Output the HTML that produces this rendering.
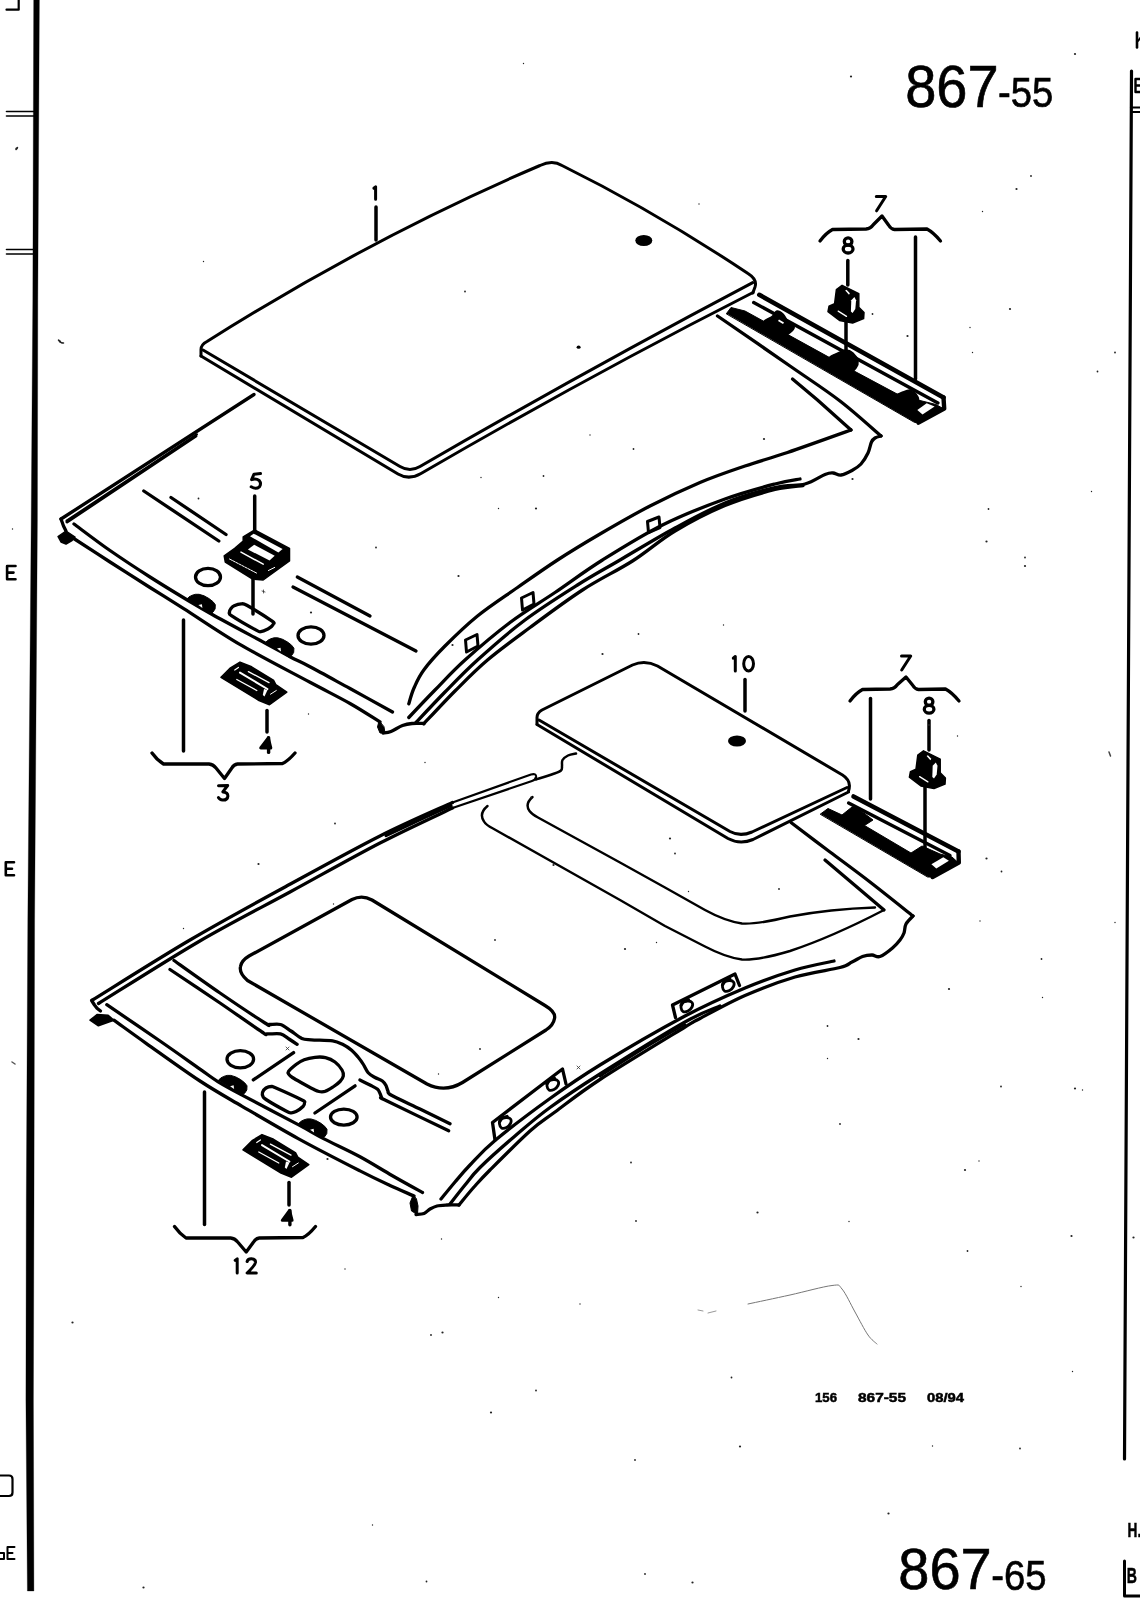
<!DOCTYPE html>
<html><head><meta charset="utf-8"><title>867-55</title>
<style>
html,body{margin:0;padding:0;background:#fff;}
body{width:1140px;height:1600px;overflow:hidden;font-family:"Liberation Sans",sans-serif;}
svg{display:block;position:absolute;left:0;top:0;will-change:transform;}
svg text{font-family:"Liberation Sans",sans-serif;fill:#000;}
svg path, svg ellipse{stroke-linecap:round;stroke-linejoin:round;}
</style></head><body>
<svg width="1140" height="1600" viewBox="0 0 1140 1600">
<rect x="0" y="0" width="1140" height="1600" fill="#fff"/>
<g id="frame">
<path d="M33.7,-2 L32.8,300 L31.2,520 L27.8,920 L26.3,1200 L25.9,1400 L27.4,1591 L33.9,1591 L33.4,1400 L34,1200 L34.6,920 L37.4,520 L37.8,300 L39.4,-2Z" fill="#000" stroke="#000" stroke-width="0.3" stroke-linejoin="round"/>
<path d="M6.5,111.5 L35,111.5" stroke="#000" stroke-width="1.6" fill="none"/>
<path d="M6.5,116 L35,116" stroke="#000" stroke-width="1.6" fill="none"/>
<path d="M6.5,249.5 L34,249.5" stroke="#000" stroke-width="1.6" fill="none"/>
<path d="M6.5,254 L34,254" stroke="#000" stroke-width="1.6" fill="none"/>
<path d="M18.7,-2 V9.7 H6.5" fill="none" stroke="#000" stroke-width="2.2" />
<path d="M15.5,566 H7.1 V579.2 H15.5 M7.1,572.6 H13.5" fill="none" stroke="#000" stroke-width="2.6" stroke-linecap="butt" stroke-linejoin="miter"/>
<path d="M14,862.2 H5.8 V875.2 H14 M5.8,868.7 H12" fill="none" stroke="#000" stroke-width="2.6" stroke-linecap="butt" stroke-linejoin="miter"/>
<path d="M-2,1475.5 H9 Q12.5,1475.5 12.5,1479 V1492.5 Q12.5,1496 9,1496 H-2" fill="none" stroke="#000" stroke-width="2.2" />
<path d="M14.5,1547 H7.5 V1559 H14.5 M7.5,1553 H12.5" fill="none" stroke="#000" stroke-width="2" stroke-linecap="butt" stroke-linejoin="miter"/>
<path d="M0,1553 H4 V1559 H0" fill="none" stroke="#000" stroke-width="2" />
<path d="M1131.5,71 L1124.5,1459" fill="none" stroke="#000" stroke-width="3.2" stroke-linecap="butt"/>
<path d="M1137,32.5 V47.5" fill="none" stroke="#000" stroke-width="2.6" stroke-linecap="butt"/>
<path d="M1138,41 L1141,37" fill="none" stroke="#000" stroke-width="2" />
<path d="M1141,79 H1135.5 V92 H1141 M1135.5,85.5 H1141" fill="none" stroke="#000" stroke-width="2.4" stroke-linecap="butt"/>
<path d="M1131,107.5 L1141,107.5" stroke="#000" stroke-width="2.2" fill="none"/>
<path d="M1131,112 L1141,112" stroke="#000" stroke-width="1.8" fill="none"/>
<text transform="translate(1127.6 1537) scale(0.7 1)" font-size="19.5" font-weight="bold" stroke="#000" stroke-width="0.5">H.</text>
<text transform="translate(1126.8 1583) scale(0.64 1)" font-size="22" font-weight="bold" stroke="#000" stroke-width="0.5">B</text>
<path d="M1124.5,1561 V1596 H1141" fill="none" stroke="#000" stroke-width="3" />
</g>
<g id="titles">
<text transform="translate(905.2 106.6) scale(1.0 1.06)" font-size="56" font-weight="normal" stroke="#000" stroke-width="0.6">867</text>
<text transform="translate(998 107) scale(0.97 1.07)" font-size="39.5" font-weight="normal" stroke="#000" stroke-width="0.6">-55</text>
<text transform="translate(898.3 1589.3) scale(1.0 1.01)" font-size="56" font-weight="normal" stroke="#000" stroke-width="0.6">867</text>
<text transform="translate(991.2 1589.5) scale(0.97 1.07)" font-size="39.5" font-weight="normal" stroke="#000" stroke-width="0.6">-65</text>
<text x="815" y="1401.5" font-size="13" font-weight="bold" text-anchor="start" textLength="22" lengthAdjust="spacingAndGlyphs" stroke="#000" stroke-width="0.5">156</text>
<text x="858" y="1401.5" font-size="13" font-weight="bold" text-anchor="start" textLength="48" lengthAdjust="spacingAndGlyphs" stroke="#000" stroke-width="0.5">867-55</text>
<text x="927" y="1401.5" font-size="13" font-weight="bold" text-anchor="start" textLength="37" lengthAdjust="spacingAndGlyphs" stroke="#000" stroke-width="0.5">08/94</text>
<path d="M748,1304 C755,1302.5 776,1298.1 790,1295 C804,1291.9 823.3,1286.5 832,1285.5 C840.7,1284.5 838.2,1284.6 842,1289 C845.8,1293.4 850.7,1304.3 855,1312 C859.3,1319.7 864.3,1329.7 868,1335 C871.7,1340.3 875.5,1342.5 877,1344" fill="none" stroke="#777" stroke-width="1" />
<path d="M698,1310 l5,1 M708,1313 l8,-2" fill="none" stroke="#999" stroke-width="1" />
</g>
<g id="panel1">
<path d="M201,356 L201,349.5 Q201,344.5 207,341.5 Q373.5,236.5 540,165.5 Q552.5,159.3 562,165.5 Q655,211.5 748,273.5 Q757.5,279.5 755,287 L752.8,293" fill="none" stroke="#000" stroke-width="3.0" />
<path d="M203,350 L400,466.5 Q410,472.5 420,466.5 Q586,370.5 752.7,282.6" fill="none" stroke="#000" stroke-width="3.0" />
<path d="M201,356 L398,474 Q409,480.5 421,473.5 Q586,377.5 753,292.5" fill="none" stroke="#000" stroke-width="3.0" />
<ellipse cx="643.8" cy="240.5" rx="8.5" ry="5.5" fill="#000"/>
<ellipse cx="578.6" cy="347.2" rx="2" ry="1.6" fill="#000"/>
<path d="M373.9 188.2 L375.6 186.8 L375.6 199.2 " fill="none" stroke="#000" stroke-width="3.0" />
<path d="M376,207 L376,240" stroke="#000" stroke-width="3.5" fill="none"/>
</g>
<g id="head1">
<path d="M254,394.5 L61,519" stroke="#000" stroke-width="3.3" fill="none"/>
<path d="M196,436 L67,522" stroke="#000" stroke-width="3.0" fill="none"/>
<path d="M197,434.2 L66.5,520.6" stroke="#000" stroke-width="2.0" fill="none"/>
<path d="M61,519 L63.5,526 L66,531" fill="none" stroke="#000" stroke-width="3.3" />
<path d="M66,531 L58,536.5 L61,542 L66,544 L72,540.5 L75,537Z" fill="#000" stroke="#000" stroke-width="1.5" stroke-linejoin="round"/>
<path d="M74,524 C80,528.4 97.3,541.7 110,550.5 C122.7,559.3 137.2,568.8 150,577 C162.8,585.2 176.2,593.3 186.5,599.5 C196.8,605.7 198.7,607 211.8,614.2 C224.8,621.5 251.9,635.9 265,643 C278.1,650.1 282.9,653 290.4,657 C297.9,661 300.1,661.5 310,666.8 C319.9,672 336.2,681 350,688.5 C363.8,696 385.4,708.1 392.5,712" fill="none" stroke="#000" stroke-width="3.3" />
<path d="M73,538 C79.2,542 97.2,553.8 110,562 C122.8,570.2 137.7,579.7 150,587.5 C162.3,595.3 168.7,599.1 183.7,608.6 C198.7,618.1 218.8,632.1 239.8,644.4 C260.9,656.7 291.6,672.4 310,682.3 C328.4,692.1 338.3,696.9 350,703.5 C361.7,710.1 375,718.9 380,722" fill="none" stroke="#000" stroke-width="3.3" />
<path d="M379,721 L377.5,727 L380,733 L385,733 L384,727Z" fill="#000" stroke="#000" stroke-width="1" stroke-linejoin="round"/>
<path d="M383,733 C384.3,732.8 387.8,732.8 391,731.5 C394.2,730.2 399,726.8 402.5,725.5 C406,724.2 408.4,723.8 412,723.5 C415.6,723.2 422,723.5 424,723.5" fill="none" stroke="#000" stroke-width="3.3" />
<path d="M143.8,491 L218.8,541" stroke="#000" stroke-width="3.3" fill="none"/>
<path d="M171,497.5 L226,534.5" stroke="#000" stroke-width="3.3" fill="none"/>
<path d="M297.3,577 L370,616" stroke="#000" stroke-width="3.3" fill="none"/>
<path d="M293,587 L416,651" stroke="#000" stroke-width="3.3" fill="none"/>
<ellipse cx="208" cy="577" rx="12.5" ry="8.7" fill="none" stroke="#000" stroke-width="3.3"/>
<ellipse cx="311" cy="635.5" rx="13" ry="8.7" fill="none" stroke="#000" stroke-width="3.3"/>
<path d="M229.5,612.1 C229.4,611.2 230.4,609.3 231,608.5 C231.6,607.7 232.8,606.4 234.2,605.8 C235.6,605.2 239.5,604 241.2,603.9 C242.9,603.8 242.7,603 246.8,605.3 C250.9,607.6 268.6,618.7 272.1,621.2 C275.6,623.7 273.4,623.3 273.3,624 C273.2,624.7 272.2,625.8 271.5,626.5 C270.8,627.2 269.3,628.2 267.9,628.9 C266.5,629.6 262.4,631.4 260.9,631.6 C259.4,631.8 260.6,632.5 256.7,630.4 C252.8,628.3 235,618 231.4,615.6 C227.8,613.2 229.6,613 229.5,612.1Z" fill="none" stroke="#000" stroke-width="3.3" />
<path d="M186.5,599.5 L189,596.9 L192.1,595.3 L195.5,594.3 L199.1,594.3 L204,595.8 L208.9,598.5 L213,601.7 L215.3,604.7 L215.1,608.9 L213,612.1 L210.4,613.7 L198.5,606.5Z" fill="#000" stroke="#000" stroke-width="1.0" stroke-linejoin="round"/>
<path d="M198.4,605.1 L201.9,604.2 L202.4,607.9Z" fill="#fff" stroke="#fff" stroke-width="0"/>
<path d="M265.1,643 L267.6,640.4 L270.7,638.8 L274.1,637.8 L277.7,637.8 L282.6,639.3 L287.5,642 L291.6,645.2 L293.9,648.2 L293.7,652.4 L291.6,655.6 L289,657.2 L277.1,650Z" fill="#000" stroke="#000" stroke-width="1.0" stroke-linejoin="round"/>
<path d="M277,648.6 L280.5,647.7 L281,651.4Z" fill="#fff" stroke="#fff" stroke-width="0"/>
<path d="M408.8,703.8 C409.6,701.1 411.5,693.6 414,688 C416.5,682.4 418.6,677 423.8,670 C428.9,663 436,655 445,646 C454,637 465.4,625.8 477.5,616 C489.6,606.2 504.2,596.8 517.5,587.5 C530.8,578.2 543.8,568.9 557.5,560 C571.2,551.1 584.6,543 600,534 C615.4,525 633.3,514.6 650,506 C666.7,497.4 684.2,489.2 700,482.5 C715.8,475.8 730.4,471 745,466 C759.6,461 769.8,458.5 787.5,452.5 C805.2,446.5 840.4,433.8 851,430" fill="none" stroke="#000" stroke-width="3.3" />
<path d="M408.8,717.5 C413.1,712.9 425.6,699.6 435,690 C444.4,680.4 452.5,671.2 465,660 C477.5,648.8 495,633.8 510,622.5 C525,611.2 539.6,602.9 555,592.5 C570.4,582.1 584.6,571.2 602.5,560 C620.4,548.8 642.1,535.2 662.5,525 C682.9,514.8 706.2,505.8 725,499 C743.8,492.2 762.5,487.3 775,484 C787.5,480.7 795.8,479.8 800,479" fill="none" stroke="#000" stroke-width="3.3" />
<path d="M416,722.5 C420.8,717.4 434.8,702.4 445,692 C455.2,681.6 464.2,672 477.5,660 C490.8,648 508.3,632.5 525,620 C541.7,607.5 561.7,595 577.5,585 C593.3,575 603.8,569.5 620,560 C636.2,550.5 657.5,537.5 675,528 C692.5,518.5 708.3,509.8 725,503 C741.7,496.2 761.7,490.7 775,487.5 C788.3,484.3 796.7,486.2 805,484 C813.3,481.8 820.3,476.3 825,474.5 C829.7,472.7 830.3,472.9 833,473 C835.7,473.1 837.8,475.4 841,475 C844.2,474.6 848.7,472.3 852,470.5 C855.3,468.7 858.3,466.9 861,464 C863.7,461.1 866.2,456.7 868,453 C869.8,449.3 870.3,444.5 871.5,442 C872.7,439.5 873.4,439 875,438 C876.6,437 880,436.3 881,436" fill="none" stroke="#000" stroke-width="3.3" />
<path d="M423.8,723.8 C429,718.3 444.4,701.6 455,691 C465.6,680.4 475,670.6 487.5,660 C500,649.4 514.2,639.2 530,627.5 C545.8,615.8 565.4,601.1 582.5,590 C599.6,578.9 617.1,570.8 632.5,561 C647.9,551.2 659.6,540.2 675,531 C690.4,521.8 708.3,512.4 725,505.5 C741.7,498.6 762,492.8 775,489.5 C788,486.2 798.3,486.2 803,485.5" fill="none" stroke="#000" stroke-width="3.3" />
<path d="M881,436 C874.2,430.2 855.2,412.7 840,401 C824.8,389.3 810.4,380.2 790,366 C769.6,351.8 729.6,324.3 717.5,316" fill="none" stroke="#000" stroke-width="3.3" />
<path d="M851,430 L817.5,400 L792.5,379" fill="none" stroke="#000" stroke-width="3.3" />
<path d="M465.5,640 L477,634.5 L478,646 L466.5,652Z" fill="none" stroke="#000" stroke-width="3.0" />
<path d="M521.5,598 L533,592.5 L534,604 L522.5,610Z" fill="none" stroke="#000" stroke-width="3.0" />
<path d="M647.5,521.5 L659,517 L660,527.5 L648.5,532.5Z" fill="none" stroke="#000" stroke-width="3.0" />
</g>
<g id="clips1">
<path d="M260.5 473.6 L254 474.2 L251.6 479.7 Q256 478.1 259.2 480.5 Q261.7 483.6 259.4 486.8 Q256 489.7 251.2 486.8 " fill="none" stroke="#000" stroke-width="3.0" />
<path d="M254.7,496 L254.7,531" stroke="#000" stroke-width="3.5" fill="none"/>
<path d="M243.2,536.8 L254.7,530 L289.5,548.4 L289.5,561 L263.2,580 L252.6,579 L225.3,562 L224.2,555.8 L234.7,548.4 L243.2,541Z" fill="#000" stroke="#000" stroke-width="1.5" stroke-linejoin="round"/>
<path d="M250,536.3 L253.7,533.7 L282.6,549 L278.4,552.6Z" fill="#fff" stroke="#fff" stroke-width="0"/>
<path d="M247.9,549.5 L254.2,544.7 L274.7,555.8 L269.5,560.5Z" fill="#fff" stroke="#fff" stroke-width="0"/>
<path d="M241,552.1 L263.2,564.2" stroke="#fff" stroke-width="1.5" fill="none"/>
<path d="M229.5,559 L256.8,573.2" stroke="#fff" stroke-width="1" fill="none" stroke-dasharray="2.5 1"/>
<path d="M268.4,570.5 L274.7,567.4" stroke="#fff" stroke-width="1" fill="none"/>
<path d="M253,578 L253,614" stroke="#000" stroke-width="3.5" fill="none"/>
<path d="M221,677.4 L230.5,667.9 L240,662.1 L251.6,666.8 L273.7,680.5 L275.8,684.7 L286.8,692.1 L269.5,704.7 L259,700.5Z" fill="#000" stroke="#000" stroke-width="1.5" stroke-linejoin="round"/>
<path d="M234.7,670 L238.4,667.4" stroke="#fff" stroke-width="1.2" fill="none"/>
<path d="M248.4,671.6 L269,682.6" stroke="#fff" stroke-width="1.3" fill="none"/>
<path d="M240,672.6 L267.4,689" stroke="#fff" stroke-width="2" fill="none"/>
<path d="M236.8,679.5 L256.8,690.5" stroke="#fff" stroke-width="1.3" fill="none"/>
<path d="M264,689 L267.5,690 L264.5,696.5 L262.8,695Z" fill="#fff" stroke="#fff" stroke-width="0"/>
<path d="M270.5,694.2 L276.3,690.5" stroke="#fff" stroke-width="1" fill="none"/>
<path d="M267,710.5 L267,732" stroke="#000" stroke-width="3.5" fill="none"/>
<path d="M268.3 737.8 L260.7 747.9 L270.8 747.9 Z" fill="#000" stroke="#000" stroke-width="3.0" stroke-linejoin="round"/>
<path d="M268.6 737.8 L268.6 752.4 " fill="none" stroke="#000" stroke-width="3.4" />
<path d="M183.5,620 L183.5,751" stroke="#000" stroke-width="3.5" fill="none"/>
<path d="M152,753 Q157,760 163.5,764 L209,764 Q213,764.3 216,768 L224.5,778.5 L231.5,768.5 Q234,764.3 237.5,764 L282.5,763.5 Q288,761 295,753" fill="none" stroke="#000" stroke-width="3.3" />
<path d="M218.5 785.7 L227.7 785.5 L222.8 791.9 Q227.9 792.1 227.9 796 Q227.5 800.3 222.6 800.1 Q219.7 799.9 218.4 797.6 " fill="none" stroke="#000" stroke-width="3.0" />
</g>
<g id="rail1">
<path d="M820,241 Q826,233 832.5,229.5 L866,229 Q870.5,228.7 873.5,224.5 L882,216 L888.5,225 Q891,229.3 894.5,229.5 L927,229 Q933.5,232.5 940.5,241" fill="none" stroke="#000" stroke-width="3.3" />
<path d="M876.3 196.5 L885.7 196.5 L876.6 210.8 " fill="none" stroke="#000" stroke-width="3.0" />
<ellipse cx="848.1" cy="241.5" rx="3.8" ry="3.6" fill="none" stroke="#000" stroke-width="3.3"/>
<ellipse cx="848.1" cy="249" rx="4.9" ry="4" fill="none" stroke="#000" stroke-width="3.3"/>
<path d="M847.8,260.5 L847.8,285" stroke="#000" stroke-width="3.5" fill="none"/>
<path d="M836.4,289.6 L842.1,285.3 L858.8,293.6 L858.8,307.2 L864,312.5 L863.6,318.6 L852.6,323 L839.5,320.4 L828,311.6 L829,306.3 L834.6,303.7Z" fill="#000" stroke="#000" stroke-width="1.5" stroke-linejoin="round"/>
<path d="M845.2,290.5 L846.5,289.8 L849.9,293.3 L849,294.8Z" fill="#fff" stroke="#fff" stroke-width="0"/>
<path d="M851.3,300.2 L854.4,297.1 L856.1,300.2 L855.3,309 L852.6,312.9 L850.9,311.6Z" fill="#fff" stroke="#fff" stroke-width="0"/>
<path d="M838.2,311.1 L846.5,316.4" stroke="#fff" stroke-width="1.3" fill="none"/>
<path d="M846,322 L846,364" stroke="#000" stroke-width="3.5" fill="none"/>
<path d="M915.5,237 L915.5,379" stroke="#000" stroke-width="3.5" fill="none"/>
<path d="M759.3,294.8 L943.5,397.4" fill="none" stroke="#000" stroke-width="4.6" />
<path d="M753.7,302.5 L937.9,403" fill="none" stroke="#000" stroke-width="3.4" />
<path d="M726.5,313.5 L731,307.5 L745,311 L850.9,369.3 L898.6,394.8 L911,402 L920,400.5 L936,404.5 L943,408.5 L919,423 L915,422.5Z" fill="#000" stroke="#000" stroke-width="1.0" stroke-linejoin="round"/>
<path d="M764,322 C763.5,319.6 769.8,318.3 772,316.5 C774.2,314.7 775.2,311.4 777,311 C778.8,310.6 781.3,312.5 783,314 C784.7,315.5 785.2,318 787,320 C788.8,322 793.2,324.2 794,326 C794.8,327.8 793.5,329.5 792,331 C790.5,332.5 787.8,335 785,335 C782.2,335 778.5,333.2 775,331 C771.5,328.8 764.5,324.4 764,322Z" fill="#000" stroke="#000" stroke-width="1.5" stroke-linejoin="round"/>
<path d="M829,358.5 C829,355.7 835.2,354.4 838,353 C840.8,351.6 843.5,350 846,350 C848.5,350 851,351.2 853,353 C855,354.8 857.5,358.5 858,361 C858.5,363.5 857.7,365.8 856,368 C854.3,370.2 851,373.7 848,374 C845,374.3 841.2,372.6 838,370 C834.8,367.4 829,361.3 829,358.5Z" fill="#000" stroke="#000" stroke-width="1.5" stroke-linejoin="round"/>
<path d="M896,396 C896.7,393.8 900.7,393 903,392 C905.3,391 907.8,389.7 910,390 C912.2,390.3 914.5,392.2 916,394 C917.5,395.8 918.8,398.7 919,401 C919.2,403.3 918.8,406.2 917,408 C915.2,409.8 911,412.5 908,412 C905,411.5 901,407.7 899,405 C897,402.3 895.3,398.2 896,396Z" fill="#000" stroke="#000" stroke-width="1.5" stroke-linejoin="round"/>
<path d="M943.5,397.4 L944.2,408.6 L918.5,422.6" fill="none" stroke="#000" stroke-width="4.4" />
<path d="M917.3,410 L926.7,403.2 L934.6,406.6 L922.5,414.6Z" fill="#fff" stroke="#fff" stroke-width="0"/>
<path d="M779,319.5 L784,322.5 L783,324 L778,321Z" fill="#fff" stroke="#fff" stroke-width="0"/>
</g>
<g id="panel10">
<path d="M537,724 L537,717.5 Q537,713 542,710 L632.5,665 Q645,659.5 657.5,666 L842.5,775 Q852,781 848.5,791" fill="none" stroke="#000" stroke-width="3.0" />
<path d="M539,720 L730,831.5 Q740,837 752,832 L847,787.5" fill="none" stroke="#000" stroke-width="3.0" />
<path d="M537,724.5 L728,838.5 Q740,845 753,839.5 L848.5,792" fill="none" stroke="#000" stroke-width="3.0" />
<ellipse cx="737" cy="741" rx="9" ry="5.5" fill="#000"/>
<path d="M733.3 658.2 L735.3 656.5 L735.3 671 " fill="none" stroke="#000" stroke-width="3.0" />
<ellipse cx="748.6" cy="663.8" rx="4.9" ry="7.2" fill="none" stroke="#000" stroke-width="3.0"/>
<path d="M745,679.5 L745,711" stroke="#000" stroke-width="3.5" fill="none"/>
</g>
<g id="rail2">
<path d="M850,701 Q856,693 862.5,689.5 L890,689 Q894.5,688.7 897.5,684.5 L906,677 L912.5,685 Q915,689.3 918.5,689.5 L945.5,689 Q952,692.5 959,701" fill="none" stroke="#000" stroke-width="3.3" />
<path d="M901.5 656 L910.7 656 L901.7 670 " fill="none" stroke="#000" stroke-width="3.0" />
<ellipse cx="929.1" cy="701.7" rx="3.8" ry="3.6" fill="none" stroke="#000" stroke-width="3.3"/>
<ellipse cx="929.1" cy="709.2" rx="4.8" ry="3.9" fill="none" stroke="#000" stroke-width="3.3"/>
<path d="M929,720.5 L929,750" stroke="#000" stroke-width="3.5" fill="none"/>
<path d="M917.8,755.1 L923.5,750.8 L940.2,759.1 L940.2,772.7 L945.4,778 L945,784.1 L934,788.5 L920.9,785.9 L909.4,777.1 L910.4,771.8 L916,769.2Z" fill="#000" stroke="#000" stroke-width="1.5" stroke-linejoin="round"/>
<path d="M926.6,756 L927.9,755.3 L931.3,758.8 L930.4,760.3Z" fill="#fff" stroke="#fff" stroke-width="0"/>
<path d="M932.7,765.7 L935.8,762.6 L937.5,765.7 L936.7,774.5 L934,778.4 L932.3,777.1Z" fill="#fff" stroke="#fff" stroke-width="0"/>
<path d="M919.6,776.6 L927.9,781.9" stroke="#fff" stroke-width="1.3" fill="none"/>
<path d="M925,787 L925,856" stroke="#000" stroke-width="3.5" fill="none"/>
<path d="M870.5,698.5 L870.5,799" stroke="#000" stroke-width="3.5" fill="none"/>
<path d="M853.5,796.5 L958.5,851.5" fill="none" stroke="#000" stroke-width="4.6" />
<path d="M848.6,803 L950,855.5" fill="none" stroke="#000" stroke-width="3.4" />
<path d="M820.5,814 L828,808.5 L842,815 L852,807 L856,807 L873,820 L864.5,825.5 L911,853 L922,846 L940,854 L952,857 L957.5,862 L932,877 L928,877Z" fill="#000" stroke="#000" stroke-width="1.0" stroke-linejoin="round"/>
<path d="M958.5,851.5 L958.8,862.5 L932.5,877" fill="none" stroke="#000" stroke-width="4.4" />
<path d="M931.4,864.2 L943.3,857.2 L948.9,860.7 L936.3,868.4Z" fill="#fff" stroke="#fff" stroke-width="0"/>
</g>
<g id="head2">
<path d="M576,753.5 C574.7,753.8 570.2,754.4 568,755.5 C565.8,756.6 563.5,758.2 562.5,760 C561.5,761.8 562.2,764.2 562,766 C561.8,767.8 562.5,769.2 561,770.5 C559.5,771.8 557.2,772.5 553,774 C548.8,775.5 538.8,778.6 536,779.5" fill="none" stroke="#000" stroke-width="2.5" />
<path d="M452.5,802.5 L531,774.5 Q536.5,773 536,777 Q535.5,780 532,781 L452.5,808" fill="none" stroke="#000" stroke-width="2.2" />
<path d="M452.5,802.5 C440.4,808.1 407.9,821.9 380,836 C352.1,850.1 316.7,869.7 285,887 C253.3,904.3 222.1,921.2 190,940 C157.9,958.8 108.8,990 92.5,1000" fill="none" stroke="#000" stroke-width="3.3" />
<path d="M452.5,808 C440.4,813.8 407.1,829 380,843 C352.9,857 320.2,875.6 290,892 C259.8,908.4 230.9,922.9 199,941.5 C167.1,960.1 115.2,993.2 98.5,1003.5" fill="none" stroke="#000" stroke-width="3.3" />
<path d="M451,805.6 C445.5,808.1 428.8,815.6 418,820.6 C407.2,825.6 391.3,833.1 386,835.6" fill="none" stroke="#000" stroke-width="3.2" />
<path d="M91.6,1000.5 L94.5,1005 L97,1008.2 L100.5,1011" fill="none" stroke="#000" stroke-width="3.3" />
<path d="M90,1020.2 L97,1014.6 L108.2,1015.3 L113.9,1020.2 L109.6,1021.8 L98.4,1025.8Z" fill="#000" stroke="#000" stroke-width="1.5" stroke-linejoin="round"/>
<path d="M106.8,1004.7 C115.7,1010.8 144.5,1030.3 160,1041 C175.5,1051.7 190.3,1062.3 200,1069.1 C209.7,1075.9 211.2,1077.5 218.2,1081.8 C225.2,1086.1 228.8,1088 242.1,1095.1 C255.4,1102.2 284.6,1117.3 298.2,1124.6 C311.8,1131.8 313.2,1133.2 323.5,1138.6 C333.8,1144 348.6,1150.6 360,1156.8 C371.4,1163 381.6,1169.5 392,1175.5 C402.4,1181.5 417.4,1189.7 422.5,1192.5" fill="none" stroke="#000" stroke-width="3.3" />
<path d="M113.9,1020.2 C119.3,1024 131.8,1033.2 146.1,1043.3 C160.4,1053.4 184,1070.5 200,1081 C216,1091.5 225.7,1096.7 242.1,1106.3 C258.5,1115.9 278.6,1127.8 298.2,1138.6 C317.8,1149.4 344.7,1163.1 360,1170.9 C375.3,1178.7 381,1181.3 390,1185.5 C399,1189.7 410,1194.2 414,1196" fill="none" stroke="#000" stroke-width="3.3" />
<path d="M413,1195.5 L410,1203 L411.5,1211 L417.5,1214.5 L418,1206 L416.5,1199Z" fill="#000" stroke="#000" stroke-width="1" stroke-linejoin="round"/>
<path d="M416,1214.5 C417.3,1214.3 421.7,1214.4 424,1213.5 C426.3,1212.6 427.8,1210.2 430,1209 C432.2,1207.8 434.2,1206.7 437,1206 C439.8,1205.3 443.3,1205.2 447,1205 C450.7,1204.8 457,1205 459,1205" fill="none" stroke="#000" stroke-width="3.3" />
<path d="M441,1199 C443.3,1196.2 450.2,1187.7 455,1182 C459.8,1176.3 463.3,1171.9 470,1165 C476.7,1158.1 481.7,1151.6 495,1140.5 C508.3,1129.4 532.5,1111.1 550,1098.5 C567.5,1085.9 577.5,1078.8 600,1065 C622.5,1051.2 660.8,1028.8 685,1016 C709.2,1003.2 726.7,995.7 745,988 C763.3,980.3 780.2,974.5 795,970 C809.8,965.5 827.5,962.5 834,961" fill="none" stroke="#000" stroke-width="3.3" />
<path d="M450,1204 C452.5,1200.8 460,1191.1 465,1185 C470,1178.9 471.7,1175.7 480,1167.5 C488.3,1159.3 503.3,1146 515,1136 C526.7,1126 535.8,1117.8 550,1107.5 C564.2,1097.2 577.5,1088.2 600,1074 C622.5,1059.8 665,1033.3 685,1022 C705,1010.7 714.2,1008.7 720,1006" fill="none" stroke="#000" stroke-width="3.3" />
<path d="M459,1205 C461.5,1202 468.8,1192.8 474,1187 C479.2,1181.2 480.7,1179.3 490,1170 C499.3,1160.7 519.2,1140.7 530,1131 C540.8,1121.3 543.3,1120.6 555,1112 C566.7,1103.4 578.3,1093.7 600,1079.5 C621.7,1065.3 668.3,1037.2 685,1027 C701.7,1016.8 690,1023.8 700,1018.5 C710,1013.2 729.2,1002.4 745,995.5 C760.8,988.6 779.2,981.7 795,977 C810.8,972.3 830.5,970 840,967.5 C849.5,965 848.2,963.8 852,962 C855.8,960.2 859.2,957.7 862.5,956.5 C865.8,955.3 869.1,955 872,955 C874.9,955 876.6,957.7 880,956.5 C883.4,955.3 889.2,950.8 892.5,948 C895.8,945.2 898.1,942.5 900,940 C901.9,937.5 903,935.7 904,933 C905,930.3 904.5,926.8 906,924 C907.5,921.2 911.8,917.3 913,916" fill="none" stroke="#000" stroke-width="3.3" />
<path d="M600,1076.5 C606.7,1072.2 625.8,1059.7 640,1051 C654.2,1042.3 677.5,1028.9 685,1024.5" fill="none" stroke="#000" stroke-width="2.2" />
<path d="M913,916 C905.8,910.3 883.8,892.7 870,882 C856.2,871.3 843.2,861.9 830,852 C816.8,842.1 797.5,827.4 791,822.5" fill="none" stroke="#000" stroke-width="3.3" />
<path d="M884,910 L825,860" fill="none" stroke="#000" stroke-width="3.3" />
<path d="M532.5,797 Q524.5,804 529.5,811 Q532,814.5 538,817.5 L620,862.5 L665,887.5 L705,910 Q725,921 742,923.5 Q757,924.5 790,916.5 Q830,909 875,907.5" fill="none" stroke="#000" stroke-width="2.4" />
<path d="M487.5,806 Q478.5,813.5 484,821.5 Q486,825 493,828.5 L620,900 L665,926 L705,946.5 Q726,957.5 742,959.5 Q758,960.5 790,951 Q832,937 884,910" fill="none" stroke="#000" stroke-width="2.4" />
<path d="M247.5,980.5 Q239,973 240.5,966.5 Q241.5,960.5 249,956 L352,899.5 Q362,894.5 372,900 L545,1005.5 Q556,1012 554.5,1018.5 Q553.5,1025 546,1030 L462.5,1082.5 Q445,1093 427,1084 L247.5,980.5Z" fill="none" stroke="#000" stroke-width="3.3" />
<path d="M174,960.5 C180.9,965.4 206.3,983.6 220,993 C233.7,1002.4 257.6,1018.3 265,1023 C272.4,1027.7 266.7,1024.3 269,1024.5 C271.3,1024.7 277.2,1023.5 280.5,1024.5 C283.8,1025.5 287.8,1028.9 291,1031 C294.2,1033.1 298.8,1037.1 301.8,1038.4 C304.8,1039.7 306.7,1039.4 311.3,1039.8 C315.9,1040.2 327.8,1040.1 332.6,1040.8 C337.4,1041.5 340.1,1043.1 343,1044.5 C345.9,1045.9 349.4,1048.4 351.6,1050.3 C353.9,1052.2 356.2,1054.9 358,1057 C359.8,1059.1 361.9,1062.1 363.4,1064.5 C364.9,1066.9 366.5,1070.8 368.2,1072.8 C369.9,1074.8 372.9,1076.3 375,1077.5 C377.1,1078.7 380.8,1079.8 382.4,1081 C384,1082.2 385.2,1084 386,1085.5 C386.8,1087 387.2,1089.6 388,1091 C388.8,1092.4 386.2,1092.3 391,1095 C395.8,1097.7 411.1,1104.7 420,1109 C428.9,1113.3 445.5,1121.5 450,1123.7" fill="none" stroke="#000" stroke-width="3.3" />
<path d="M170,969.5 C177.5,974.5 206.2,993.6 220,1003 C233.8,1012.4 254.9,1027.4 262,1032 C269.1,1036.6 264.2,1033.6 267,1033.9 C269.8,1034.2 277.2,1033.1 280.5,1033.9 C283.8,1034.7 286.5,1037.4 289,1039 C291.5,1040.6 295.9,1043.5 297.1,1044.3" fill="none" stroke="#000" stroke-width="3.3" />
<path d="M359.9,1079.9 C361.6,1080.7 368.3,1084.1 371,1085.5 C373.7,1086.9 376.2,1088.1 377.6,1089.3 C379,1090.5 379.3,1092.2 380,1093.5 C380.7,1094.8 381.1,1097 382,1098 C382.9,1099 376,1095.6 386,1100.5 C396,1105.4 439.3,1126.3 448.7,1130.8" fill="none" stroke="#000" stroke-width="3.3" />
<ellipse cx="240.3" cy="1059.3" rx="13.3" ry="8.6" fill="none" stroke="#000" stroke-width="3.3"/>
<ellipse cx="343.8" cy="1117.1" rx="13.3" ry="8" fill="none" stroke="#000" stroke-width="3.3"/>
<path d="M293.6,1052.6 L253.3,1079.9" stroke="#000" stroke-width="3.3" fill="none"/>
<path d="M355.1,1085.8 L314.9,1113" stroke="#000" stroke-width="3.3" fill="none"/>
<path d="M288.5,1071.5 C289.7,1069.8 293.4,1066.5 296,1064.5 C298.6,1062.5 301,1060.9 304.2,1059.7 C307.4,1058.5 311.4,1057.7 315,1057.3 C318.6,1056.9 322.2,1056.8 325.5,1057.6 C328.8,1058.4 332.2,1059.9 335,1062 C337.8,1064.1 340.6,1067.7 342,1070 C343.4,1072.3 343.6,1074.1 343.3,1076 C343,1077.9 341.7,1079.7 340,1081.5 C338.3,1083.3 335.4,1085.4 333,1087 C330.6,1088.6 327.8,1090.5 325.5,1091.2 C323.2,1092 321.1,1091.9 319,1091.5 C316.9,1091.1 316,1090.5 313,1089 C310,1087.5 304.4,1084.4 301,1082.5 C297.6,1080.6 294.4,1078.8 292.4,1077.5 C290.4,1076.2 289.6,1075.5 289,1074.5 C288.4,1073.5 287.3,1073.2 288.5,1071.5Z" fill="none" stroke="#000" stroke-width="3.3" />
<path d="M262.5,1092.5 C262.9,1091.2 264.6,1088.9 266,1088 C267.4,1087.1 270,1086.5 271.5,1086.5 C273,1086.5 271.4,1086 276,1088 C280.6,1090 297.7,1097.8 302,1100 C306.3,1102.2 304.4,1102 304.5,1103 C304.6,1104 304.3,1105.2 303,1106.5 C301.7,1107.8 297.8,1110.6 296,1111.5 C294.2,1112.4 292.5,1112.9 291,1112.8 C289.5,1112.7 289.8,1113 286,1111 C282.2,1109 269.4,1101.7 266,1099.5 C262.6,1097.3 263.5,1097.5 263,1096.5 C262.5,1095.5 262.1,1093.8 262.5,1092.5Z" fill="none" stroke="#000" stroke-width="3.3" />
<path d="M218.2,1080.6 L220.7,1078 L223.8,1076.4 L227.2,1075.4 L230.8,1075.4 L235.7,1076.9 L240.6,1079.6 L244.7,1082.8 L247,1085.8 L246.8,1090 L244.7,1093.2 L242.1,1094.8 L230.2,1087.6Z" fill="#000" stroke="#000" stroke-width="1.0" stroke-linejoin="round"/>
<path d="M230.1,1086.2 L233.6,1085.3 L234.1,1089Z" fill="#fff" stroke="#fff" stroke-width="0"/>
<path d="M298.2,1124.1 L300.7,1121.5 L303.8,1119.9 L307.2,1118.9 L310.8,1118.9 L315.7,1120.4 L320.6,1123.1 L324.7,1126.3 L327,1129.3 L326.8,1133.5 L324.7,1136.7 L322.1,1138.3 L310.2,1131.1Z" fill="#000" stroke="#000" stroke-width="1.0" stroke-linejoin="round"/>
<path d="M310.1,1129.7 L313.6,1128.8 L314.1,1132.5Z" fill="#fff" stroke="#fff" stroke-width="0"/>
<path d="M675.5,1017.5 L672.5,1005 L735,974 L739.5,985.5" fill="none" stroke="#000" stroke-width="3.3" />
<path d="M681,1007.5 C680.8,1006.1 680.9,1004.1 682,1003 C683.1,1001.9 685.8,1001.1 687.5,1001 C689.2,1000.9 691.2,1001.5 692,1002.5 C692.8,1003.5 692.7,1005.6 692,1007 C691.3,1008.4 689.5,1010.2 688,1011 C686.5,1011.8 684.2,1012.1 683,1011.5 C681.8,1010.9 681.2,1008.9 681,1007.5Z" fill="none" stroke="#000" stroke-width="2.8" />
<path d="M681,1005.5 L683.5,1001.5 L688.5,1000" fill="none" stroke="#000" stroke-width="3.2" />
<path d="M722.5,987 C722.3,985.6 722.4,983.6 723.5,982.5 C724.6,981.4 727.3,980.6 729,980.5 C730.7,980.4 732.8,981 733.5,982 C734.2,983 734.2,985.1 733.5,986.5 C732.8,987.9 731,989.8 729.5,990.5 C728,991.2 725.7,991.6 724.5,991 C723.3,990.4 722.7,988.4 722.5,987Z" fill="none" stroke="#000" stroke-width="2.8" />
<path d="M722.5,985 L725,981 L730,979.5" fill="none" stroke="#000" stroke-width="3.2" />
<path d="M495,1140 L492.5,1122.5 L562.5,1069 L566,1084" fill="none" stroke="#000" stroke-width="3.3" />
<path d="M499.5,1124 C499.3,1122.6 499.4,1120.6 500.5,1119.5 C501.6,1118.4 504.3,1117.6 506,1117.5 C507.7,1117.4 509.8,1118 510.5,1119 C511.2,1120 511.2,1122.1 510.5,1123.5 C509.8,1124.9 508,1126.8 506.5,1127.5 C505,1128.2 502.7,1128.6 501.5,1128 C500.3,1127.4 499.7,1125.4 499.5,1124Z" fill="none" stroke="#000" stroke-width="2.8" />
<path d="M499.5,1122 L502,1118 L507,1116.5" fill="none" stroke="#000" stroke-width="3.2" />
<path d="M547,1086 C546.8,1084.6 546.9,1082.6 548,1081.5 C549.1,1080.4 551.8,1079.6 553.5,1079.5 C555.2,1079.4 557.2,1080 558,1081 C558.8,1082 558.7,1084.1 558,1085.5 C557.3,1086.9 555.5,1088.8 554,1089.5 C552.5,1090.2 550.2,1090.6 549,1090 C547.8,1089.4 547.2,1087.4 547,1086Z" fill="none" stroke="#000" stroke-width="2.8" />
<path d="M547,1084 L549.5,1080 L554.5,1078.5" fill="none" stroke="#000" stroke-width="3.2" />
</g>
<g id="clips2">
<path d="M243,1149.9 L252.5,1140.4 L262,1134.6 L273.6,1139.3 L295.7,1153 L297.8,1157.2 L308.8,1164.6 L291.5,1177.2 L281,1173Z" fill="#000" stroke="#000" stroke-width="1.5" stroke-linejoin="round"/>
<path d="M256.7,1142.5 L260.4,1139.9" stroke="#fff" stroke-width="1.2" fill="none"/>
<path d="M270.4,1144.1 L291,1155.1" stroke="#fff" stroke-width="1.3" fill="none"/>
<path d="M262,1145.1 L289.4,1161.5" stroke="#fff" stroke-width="2" fill="none"/>
<path d="M258.8,1152 L278.8,1163" stroke="#fff" stroke-width="1.3" fill="none"/>
<path d="M286,1161.5 L289.5,1162.5 L286.5,1169 L284.8,1167.5Z" fill="#fff" stroke="#fff" stroke-width="0"/>
<path d="M292.5,1166.7 L298.3,1163" stroke="#fff" stroke-width="1" fill="none"/>
<path d="M289,1182.5 L289,1205" stroke="#000" stroke-width="3.5" fill="none"/>
<path d="M289.6 1210.5 L282.3 1220.3 L292.1 1220.3 Z" fill="#000" stroke="#000" stroke-width="3.0" stroke-linejoin="round"/>
<path d="M289.9 1210.5 L289.9 1224.7 " fill="none" stroke="#000" stroke-width="3.4" />
<path d="M204.5,1092 L204.5,1224.5" stroke="#000" stroke-width="3.5" fill="none"/>
<path d="M174.5,1226.5 Q179.5,1233.5 186,1238 L230.7,1238 Q234.7,1238.3 237.7,1242 L246.2,1252 L253.2,1242.5 Q255.7,1238.3 259.2,1238 L303,1237.5 Q308.5,1235 315.5,1226.5" fill="none" stroke="#000" stroke-width="3.3" />
<path d="M235.2 1260.4 L237.2 1258.8 L237.2 1273 " fill="none" stroke="#000" stroke-width="3.0" />
<path d="M247.1 1261.6 Q247.7 1258.7 251.4 1258.8 Q255.7 1259.1 255.5 1262.4 Q255.1 1265.4 247.1 1273 L256.3 1273 " fill="none" stroke="#000" stroke-width="3.0" />
</g>
<g id="specks" fill="#222">
<circle cx="203.5" cy="261.5" r="0.7"/>
<circle cx="60" cy="341.5" r="0.9"/>
<circle cx="16.5" cy="148.5" r="1.1"/>
<circle cx="523.5" cy="63.5" r="0.7"/>
<circle cx="465" cy="291.5" r="0.9"/>
<circle cx="851" cy="76.5" r="1.1"/>
<circle cx="982.5" cy="211.5" r="0.7"/>
<circle cx="1031" cy="176" r="0.9"/>
<circle cx="1016.5" cy="189" r="1.1"/>
<circle cx="699" cy="204" r="0.7"/>
<circle cx="872.5" cy="314" r="0.9"/>
<circle cx="907.5" cy="336" r="1.1"/>
<circle cx="970" cy="327.5" r="0.7"/>
<circle cx="1115" cy="352.5" r="0.9"/>
<circle cx="1010" cy="309" r="1.1"/>
<circle cx="972.5" cy="352.5" r="0.7"/>
<circle cx="1097.5" cy="371.5" r="0.9"/>
<circle cx="1075" cy="54" r="1.1"/>
<circle cx="12.5" cy="529" r="0.7"/>
<circle cx="198.5" cy="498.5" r="0.9"/>
<circle cx="311" cy="612.5" r="1.1"/>
<circle cx="308.5" cy="714" r="0.7"/>
<circle cx="376" cy="547.5" r="0.9"/>
<circle cx="458.5" cy="576" r="1.1"/>
<circle cx="481" cy="477.5" r="0.7"/>
<circle cx="543.5" cy="476" r="0.9"/>
<circle cx="536" cy="508.5" r="1.1"/>
<circle cx="498.5" cy="508.5" r="0.7"/>
<circle cx="531" cy="797.5" r="0.9"/>
<circle cx="452.5" cy="645" r="1.1"/>
<circle cx="425" cy="762.5" r="0.7"/>
<circle cx="988.5" cy="509" r="0.9"/>
<circle cx="986.5" cy="541.5" r="1.1"/>
<circle cx="1091.5" cy="491.5" r="0.7"/>
<circle cx="1025" cy="557.5" r="0.9"/>
<circle cx="1025" cy="566" r="1.1"/>
<circle cx="723.5" cy="625" r="0.7"/>
<circle cx="638.5" cy="634" r="0.9"/>
<circle cx="602.5" cy="654" r="1.1"/>
<circle cx="957.5" cy="736" r="0.7"/>
<circle cx="929" cy="725" r="0.9"/>
<circle cx="764" cy="439" r="1.1"/>
<circle cx="590" cy="435" r="0.7"/>
<circle cx="633.5" cy="449" r="0.9"/>
<circle cx="852.5" cy="479" r="1.1"/>
<circle cx="333.5" cy="904" r="0.7"/>
<circle cx="335" cy="823.5" r="0.9"/>
<circle cx="258.5" cy="864" r="1.1"/>
<circle cx="183.5" cy="928.5" r="0.7"/>
<circle cx="495" cy="940" r="0.9"/>
<circle cx="553.5" cy="865" r="1.1"/>
<circle cx="438.5" cy="1074" r="0.7"/>
<circle cx="480" cy="1049" r="0.9"/>
<circle cx="327.5" cy="1159" r="1.1"/>
<circle cx="688.5" cy="891.5" r="0.7"/>
<circle cx="1001.5" cy="871.5" r="0.9"/>
<circle cx="986.5" cy="858.5" r="1.1"/>
<circle cx="980" cy="921" r="0.7"/>
<circle cx="1041.5" cy="959" r="0.9"/>
<circle cx="949" cy="989" r="1.1"/>
<circle cx="1042.5" cy="997.5" r="0.7"/>
<circle cx="827.5" cy="1026" r="0.9"/>
<circle cx="858.5" cy="1039" r="1.1"/>
<circle cx="827.5" cy="1058.5" r="0.7"/>
<circle cx="1001" cy="1086.5" r="0.9"/>
<circle cx="1075" cy="1088.5" r="1.1"/>
<circle cx="1082.5" cy="1090" r="0.7"/>
<circle cx="840" cy="1124" r="0.9"/>
<circle cx="965" cy="1170" r="1.1"/>
<circle cx="979" cy="1161" r="0.7"/>
<circle cx="631" cy="1162.5" r="0.9"/>
<circle cx="625" cy="949" r="1.1"/>
<circle cx="656.5" cy="942.5" r="0.7"/>
<circle cx="675" cy="853.5" r="0.9"/>
<circle cx="670" cy="838.5" r="1.1"/>
<circle cx="1115" cy="922.5" r="0.7"/>
<circle cx="779" cy="889" r="0.9"/>
<circle cx="72.5" cy="1322.5" r="1.1"/>
<circle cx="345" cy="1269" r="0.7"/>
<circle cx="431" cy="1335" r="0.9"/>
<circle cx="442.5" cy="1332.5" r="1.1"/>
<circle cx="498.5" cy="1297.5" r="0.7"/>
<circle cx="536" cy="1390.5" r="0.9"/>
<circle cx="491" cy="1412.5" r="1.1"/>
<circle cx="372.5" cy="1525" r="0.7"/>
<circle cx="426.5" cy="1581.5" r="0.9"/>
<circle cx="143.5" cy="1587.5" r="1.1"/>
<circle cx="441.5" cy="1239" r="0.7"/>
<circle cx="636" cy="1221" r="0.9"/>
<circle cx="757.5" cy="1212.5" r="1.1"/>
<circle cx="849" cy="1221.5" r="0.7"/>
<circle cx="967.5" cy="1251" r="0.9"/>
<circle cx="1071.5" cy="1236" r="1.1"/>
<circle cx="1021" cy="1286.5" r="0.7"/>
<circle cx="731.5" cy="1377.5" r="0.9"/>
<circle cx="740" cy="1446.5" r="1.1"/>
<circle cx="932.5" cy="1446" r="0.7"/>
<circle cx="1020" cy="1448.5" r="0.9"/>
<circle cx="888.5" cy="1513.5" r="1.1"/>
<circle cx="1072.5" cy="1371.5" r="0.7"/>
<circle cx="645" cy="1574" r="0.9"/>
<circle cx="692.5" cy="1582.5" r="1.1"/>
<circle cx="580" cy="1304" r="0.7"/>
<circle cx="635" cy="1460" r="0.9"/>
<circle cx="1133.5" cy="1237.5" r="1.1"/>
<path d="M262,591 l3,1 M263.5,590 l0,3" stroke="#333" stroke-width="0.8"/>
<path d="M286,1047 l3,3 M289,1047 l-3,3" stroke="#333" stroke-width="0.8"/>
<path d="M577,1066 l3,3 M580,1066 l-3,3" stroke="#333" stroke-width="0.8"/>
<path d="M12,1062 l3,2" stroke="#555" stroke-width="1.5"/>
<path d="M1109,752 l1.5,4" stroke="#444" stroke-width="1.5"/>
<path d="M58.5,340 q2,3 5,3" stroke="#222" stroke-width="1.5" fill="none"/>
<path d="M16,149.5 l1.5,-2" stroke="#222" stroke-width="1.5"/>
</g>
</svg>
</body></html>
